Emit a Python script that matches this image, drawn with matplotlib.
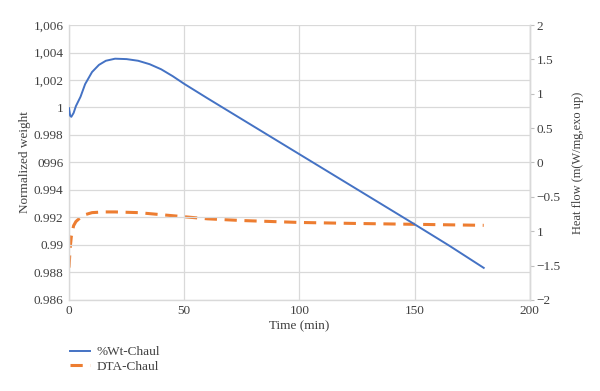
import matplotlib
matplotlib.use("Agg")
import matplotlib.pyplot as plt
from matplotlib.ticker import FixedLocator, FixedFormatter

plt.rcParams['font.family'] = ['Liberation Serif', 'DejaVu Serif']

wt_time = [0, 0.5, 1, 2, 3, 5, 7, 10, 13, 16, 20, 25, 30, 35, 40, 45, 50, 60, 75, 100, 125, 150, 165, 180]
wt_vals = [0.99995, 0.9994, 0.99932, 0.9996, 1.0001, 1.00078, 1.0017, 1.00258, 1.0031, 1.0034,
           1.00355, 1.00352, 1.0034, 1.00315, 1.00278, 1.00228, 1.00172, 1.00068, 0.99915, 0.9966,
           0.99405, 0.9915, 0.98995, 0.98833]

dta_time = [0, 0.5, 1, 2, 3, 5, 7, 10, 15, 20, 30, 40, 50, 60, 75, 100, 125, 150, 180]
dta_vals = [-1.53, -1.25, -1.08, -0.92, -0.86, -0.80, -0.76, -0.73, -0.72, -0.72, -0.73, -0.76,
            -0.79, -0.82, -0.845, -0.873, -0.888, -0.90, -0.915]

left_ticks = [0.986, 0.988, 0.99, 0.992, 0.994, 0.996, 0.998, 1.0, 1.002, 1.004, 1.006]
left_labels = ['0.986', '0.988', '0.99', '0.992', '0.994', '0996', '0.998', '1', '1,002', '1,004', '1,006']
right_ticks = [-2, -1.5, -1, -0.5, 0, 0.5, 1, 1.5, 2]
right_labels = ['\u22122', '\u22121.5', '1', '\u22120.5', '0', '0.5', '1', '1.5', '2']
x_ticks = [0, 50, 100, 150, 200]

blue = '#4472C4'
orange = '#ED7D31'
grid_c = '#D9D9D9'
txt_c = '#404040'

fig = plt.figure(figsize=(6, 3.91), dpi=100)
ax = fig.add_axes([0.115, 0.233, 0.768, 0.703])
ax2 = ax.twinx()

l1, = ax.plot(wt_time, wt_vals, color=blue, lw=1.4, label='%Wt-Chaul', zorder=3)
l2, = ax2.plot(dta_time, dta_vals, color=orange, lw=2.2, ls=(0, (4, 2.5)), label='DTA-Chaul')

ax.set_xlim(0, 200)
ax.set_ylim(0.986, 1.006)
ax2.set_ylim(-2, 2)

ax.xaxis.set_major_locator(FixedLocator(x_ticks))
ax.yaxis.set_major_locator(FixedLocator(left_ticks))
ax.yaxis.set_major_formatter(FixedFormatter(left_labels))
ax2.yaxis.set_major_locator(FixedLocator(right_ticks))
ax2.yaxis.set_major_formatter(FixedFormatter(right_labels))

ax.grid(True, color=grid_c, lw=0.9)
ax.set_axisbelow(True)

for a in (ax, ax2):
    for s in a.spines.values():
        s.set_color(grid_c)
        s.set_linewidth(1.0)
    a.spines['top'].set_visible(False)

ax.tick_params(axis='both', length=0, labelsize=9.5, colors=txt_c, pad=4)
ax2.tick_params(axis='y', length=3, width=0.8, color='#BFBFBF', labelsize=9.5, labelcolor=txt_c, pad=2)
ax2.spines['left'].set_visible(False)
ax2.spines['bottom'].set_visible(False)

ax.set_xlabel('Time (min)', fontsize=9.5, color=txt_c, labelpad=2)
ax.set_ylabel('Normalized weight', fontsize=9.5, color=txt_c, labelpad=2)
ax2.set_ylabel('Heat flow (m(W/mg,exo up)', fontsize=9, color=txt_c, labelpad=8)

ax2.set_zorder(ax.get_zorder() - 1)
ax.patch.set_visible(False)

fig.legend(handles=[l1, l2], loc='upper left', bbox_to_anchor=(0.108, 0.128), frameon=False,
           fontsize=9.5, handlelength=1.5, handletextpad=0.5, labelspacing=0.15, borderaxespad=0,
           labelcolor=txt_c)

fig.savefig('out.png', dpi=100)
